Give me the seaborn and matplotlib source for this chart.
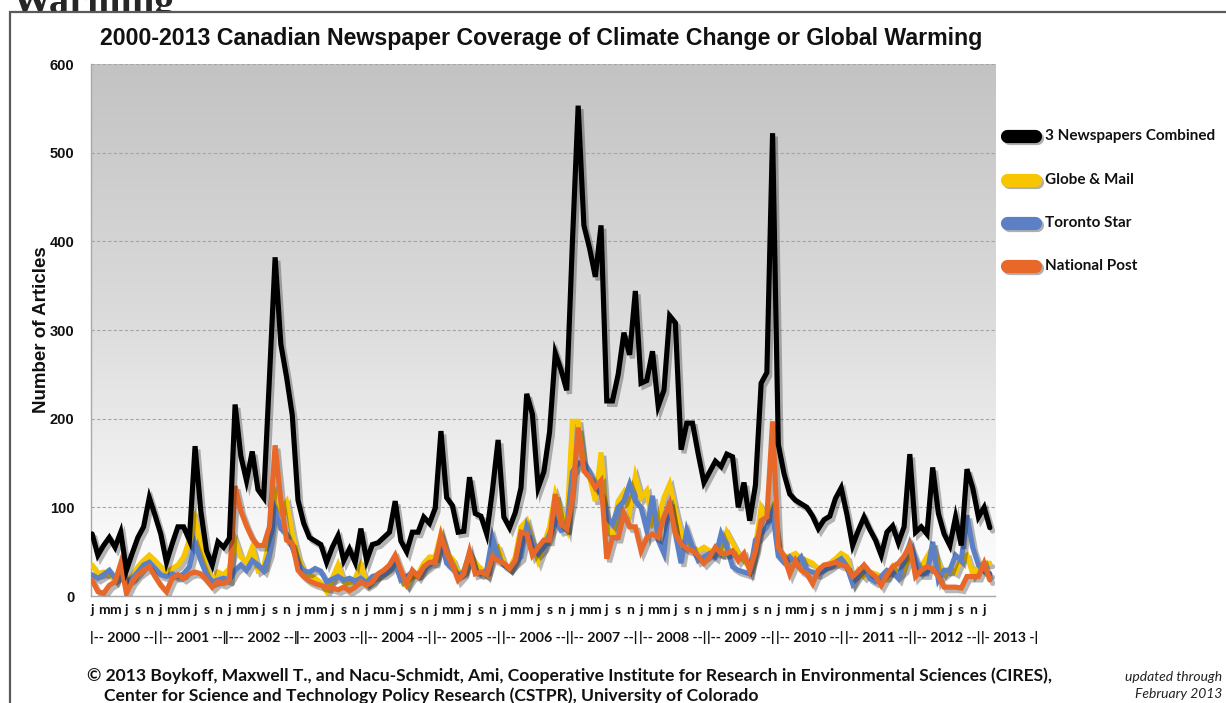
import numpy as np
import pandas as pd
import matplotlib
matplotlib.use("Agg")
import matplotlib.pyplot as plt
import seaborn as sns
from matplotlib import patheffects as pe
from matplotlib.lines import Line2D
from matplotlib.patches import Rectangle
from matplotlib.colors import LinearSegmentedColormap
from matplotlib.transforms import blended_transform_factory

# ---------------- data (monthly, Jan 2000 - Feb 2013) ----------------
combined = [70, 46, 57, 66, 55, 72, 29, 48, 66, 78, 111, 91,
            70, 38, 59, 78, 78, 63, 169, 96, 51, 35, 61, 55,
            65, 216, 158, 130, 163, 120, 111, 245, 382, 284, 247, 204,
            108, 82, 66, 62, 58, 38, 55, 68, 40, 53, 38, 76,
            40, 58, 60, 66, 72, 107, 62, 50, 72, 72, 89, 82,
            99, 186, 111, 102, 72, 73, 134, 93, 90, 70, 119, 176,
            89, 77, 94, 122, 228, 205, 122, 140, 185, 274, 255, 232,
            400, 553, 418, 392, 360, 418, 220, 220, 250, 297, 272, 344,
            240, 243, 276, 214, 232, 316, 308, 165, 195, 195, 160, 128,
            140, 152, 146, 160, 157, 100, 128, 85, 125, 240, 252, 522,
            171, 138, 115, 108, 104, 100, 90, 76, 86, 90, 110, 122,
            92, 57, 74, 89, 75, 63, 46, 72, 79, 60, 78, 160,
            72, 78, 70, 145, 93, 70, 57, 89, 57, 143, 122, 89,
            100, 77]
globe_mail = [35, 25, 27, 25, 18, 30, 18, 22, 33, 40, 46, 40,
              33, 27, 31, 35, 44, 63, 87, 55, 31, 18, 27, 24,
              31, 63, 44, 38, 55, 29, 33, 63, 115, 96, 106, 70,
              44, 29, 24, 20, 15, 5, 20, 35, 16, 14, 20, 35,
              14, 18, 24, 29, 33, 40, 18, 12, 22, 25, 37, 44,
              44, 70, 48, 42, 25, 29, 48, 37, 31, 24, 51, 55,
              37, 31, 44, 78, 85, 60, 40, 58, 78, 115, 96, 78,
              197, 197, 145, 134, 107, 162, 74, 70, 107, 117, 96, 135,
              111, 119, 81, 87, 111, 126, 96, 70, 63, 55, 51, 55,
              51, 50, 48, 72, 60, 48, 40, 33, 55, 100, 88, 100,
              50, 44, 45, 48, 42, 40, 37, 31, 34, 37, 42, 48,
              44, 16, 29, 22, 27, 25, 22, 22, 33, 24, 30, 48,
              31, 33, 44, 55, 37, 25, 31, 27, 42, 46, 25, 33,
              37, 37]
toronto_star = [24, 20, 24, 29, 20, 24, 16, 20, 27, 35, 38, 31,
                24, 22, 25, 22, 25, 33, 59, 40, 24, 16, 18, 20,
                18, 29, 35, 29, 40, 35, 29, 48, 96, 76, 70, 55,
                37, 28, 27, 31, 28, 16, 19, 22, 18, 20, 17, 20,
                15, 22, 24, 25, 30, 37, 18, 22, 27, 24, 30, 35,
                40, 63, 37, 31, 24, 27, 48, 29, 25, 29, 66, 44,
                35, 31, 38, 44, 78, 59, 48, 55, 70, 85, 74, 76,
                140, 150, 150, 140, 126, 115, 89, 81, 100, 107, 126, 107,
                100, 74, 113, 63, 48, 107, 70, 37, 74, 55, 40, 44,
                48, 44, 70, 55, 33, 29, 27, 25, 63, 70, 78, 95,
                45, 38, 44, 37, 44, 29, 27, 25, 29, 33, 38, 42,
                33, 14, 24, 31, 20, 16, 22, 29, 27, 20, 40, 59,
                42, 25, 25, 61, 18, 29, 29, 46, 40, 91, 55, 35,
                28, 25]
national_post = [18, 5, 3, 12, 16, 37, 3, 16, 24, 29, 33, 22,
                 12, 5, 20, 24, 20, 25, 27, 25, 18, 10, 16, 14,
                 18, 124, 96, 79, 65, 57, 57, 78, 170, 107, 63, 59,
                 29, 22, 17, 14, 12, 10, 9, 7, 10, 6, 10, 16,
                 12, 16, 25, 29, 35, 46, 29, 14, 29, 22, 33, 38,
                 38, 68, 48, 35, 18, 25, 50, 25, 27, 24, 44, 40,
                 37, 31, 40, 72, 70, 46, 55, 63, 63, 115, 81, 76,
                 110, 190, 141, 134, 122, 130, 42, 66, 66, 93, 78, 78,
                 51, 66, 70, 66, 89, 104, 70, 59, 53, 51, 45, 37,
                 44, 55, 48, 48, 51, 40, 48, 29, 51, 85, 89, 197,
                 55, 45, 25, 40, 29, 25, 14, 29, 35, 36, 38, 35,
                 33, 22, 28, 35, 27, 22, 12, 24, 33, 37, 45, 57,
                 22, 29, 33, 31, 22, 10, 10, 10, 9, 22, 22, 22,
                 37, 18]

month_letters = ["j", "", "m", "", "m", "", "j", "", "s", "", "n", ""]
year_labels = ["|-- 2000 --|", "|-- 2001 --|", "|--- 2002 --|", "|-- 2003 --|",
               "|-- 2004 --|", "|-- 2005 --|", "|-- 2006 --|", "|-- 2007 --|",
               "|-- 2008 --|", "|-- 2009 --|", "|-- 2010 --|", "|-- 2011 --|",
               "|-- 2012 --|", "|- 2013 -|"]
series_names = ["3 Newspapers Combined", "Globe & Mail", "Toronto Star", "National Post"]
series_colors = {"3 Newspapers Combined": "#000000", "Globe & Mail": "#F7C600",
                 "Toronto Star": "#5B80C6", "National Post": "#E8682A"}
y_ticks = [0, 100, 200, 300, 400, 500, 600]

n = len(combined)
months = np.arange(n)
df = pd.DataFrame({
    "month": np.tile(months, 4),
    "articles": np.concatenate([combined, globe_mail, toronto_star, national_post]),
    "series": np.repeat(series_names, n),
})

sns.set_theme(style="white")
plt.rcParams["font.family"] = ["Liberation Sans", "DejaVu Sans"]

W, H = 1226, 703
fig = plt.figure(figsize=(W / 100, H / 100), dpi=100)
fig.patch.set_facecolor("white")


def fx(px):
    return px / W


def fy(py):
    return 1 - py / H


CAL = ["Lato", "DejaVu Sans"]

# heading fragment above the framed chart
fig.text(fx(11), fy(13), "Warming", family=["Liberation Serif", "DejaVu Serif"],
         weight="bold", fontsize=29, va="baseline", ha="left", zorder=-3)
fig.add_artist(Rectangle((fx(10), -0.2), 1.5, fy(12) + 0.2, transform=fig.transFigure,
                         facecolor="white", edgecolor="#5a5a5a", lw=1.6, zorder=-2))

ax = fig.add_axes([fx(91), fy(596), fx(995) - fx(91), fy(64) - fy(596)])
ax.set_facecolor("white")

# gradient background
cmap = LinearSegmentedColormap.from_list(
    "bg", [(0.0, "#c3c3c3"), (0.45, "#dadada"), (0.85, "#f6f6f6"), (1.0, "#ffffff")])
ax.imshow(np.linspace(0, 1, 256).reshape(-1, 1), extent=[0, 1, 0, 1],
          transform=ax.transAxes, aspect="auto", cmap=cmap, zorder=-10,
          interpolation="bilinear")

shadow = [pe.SimpleLineShadow(offset=(2, -2.5), shadow_color="#000000", alpha=0.28),
          pe.Normal()]
order = ["Globe & Mail", "Toronto Star", "National Post", "3 Newspapers Combined"]
for z, name in enumerate(order):
    sns.lineplot(data=df[df["series"] == name], x="month", y="articles",
                 color=series_colors[name], lw=3.7, ax=ax, zorder=3 + z,
                 path_effects=shadow, legend=False, solid_joinstyle="miter")

ax.set_xlim(-0.2, n - 1 + 0.9)
ax.set_ylim(0, 600)
ax.set_xlabel("")
ax.set_ylabel("")
ax.set_axisbelow(True)
ax.yaxis.grid(True, linestyle=(0, (3, 2)), color="#a5a5a5", lw=0.8)
ax.xaxis.grid(False)
for s in ["top", "right"]:
    ax.spines[s].set_visible(False)
for s in ["left", "bottom"]:
    ax.spines[s].set_color("#a8a8a8")
    ax.spines[s].set_linewidth(1.0)

ax.set_yticks(y_ticks)
ax.set_yticklabels([str(v) for v in y_ticks], fontweight="bold", fontsize=10.5)
ax.tick_params(axis="y", length=5, width=0.8, color="#a8a8a8", pad=7, labelcolor="#111111")

ax.set_xticks(months)
ax.set_xticklabels([month_letters[i % 12] for i in months])
for lab in ax.get_xticklabels():
    lab.set_family(CAL)
    lab.set_fontweight("bold")
    lab.set_fontsize(10)
    lab.set_color("#111111")
ax.tick_params(axis="x", length=4, width=0.8, color="#a8a8a8", pad=2, direction="out")

# year row
trans = blended_transform_factory(ax.transData, fig.transFigure)
yr_texts = []
for k, lab in enumerate(year_labels):
    if k < len(year_labels) - 1:
        t = ax.text(12 * k + 5.5, fy(637), lab, transform=trans, ha="center", va="center",
                    family=CAL, weight="bold", fontsize=11, color="#111111", clip_on=False)
    else:
        t = ax.text(12 * k - 0.5, fy(637), lab, transform=trans, ha="left", va="center",
                    family=CAL, weight="bold", fontsize=11, color="#111111", clip_on=False)
    yr_texts.append(t)

# title / labels / footer
title = fig.text(fx(541), fy(38), "2000-2013 Canadian Newspaper Coverage of Climate Change or Global Warming",
                 ha="center", va="center", weight="bold", fontsize=14, color="#111111")
fig.text(fx(42), fy(330), "Number of Articles", rotation=90, ha="center", va="center",
         weight="bold", fontsize=13.5, color="#111111")
foot1 = fig.text(fx(87), fy(676),
                 "\u00a9 2013 Boykoff, Maxwell T., and Nacu-Schmidt, Ami, Cooperative Institute for Research in Environmental Sciences (CIRES),",
                 ha="left", va="center", family=CAL, weight="bold", fontsize=12, color="#111111")
foot2 = fig.text(fx(104), fy(696),
                 "Center for Science and Technology Policy Research (CSTPR), University of Colorado",
                 ha="left", va="center", family=CAL, weight="bold", fontsize=12, color="#111111")
fig.text(fx(1222), fy(677), "updated through", ha="right", va="center", family=CAL,
         style="italic", fontsize=10, color="#222222")
fig.text(fx(1222), fy(694), "February 2013", ha="right", va="center", family=CAL,
         style="italic", fontsize=10, color="#222222")

# legend (manual swatches)
leg_y = [136, 180, 223, 266]
for name, yy in zip(series_names, leg_y):
    fig.add_artist(Line2D([fx(1007), fx(1035)], [fy(yy), fy(yy)], transform=fig.transFigure,
                          color=series_colors[name], lw=9.5, solid_capstyle="round",
                          path_effects=[pe.SimpleLineShadow(offset=(1.2, -1.5), alpha=0.35), pe.Normal()]))
    fig.text(fx(1045), fy(yy), name, ha="left", va="center", family=CAL, weight="bold",
             fontsize=11, color="#111111")

# fit text widths
fig.canvas.draw()
r = fig.canvas.get_renderer()


def fit(t, width_px):
    bb = t.get_window_extent(renderer=r)
    t.set_fontsize(t.get_fontsize() * width_px / bb.width)


fit(title, 888)
fit(foot1, 955)
foot2.set_fontsize(foot1.get_fontsize())
bb0 = yr_texts[0].get_window_extent(renderer=r)
seg = ax.transData.transform((11.5, 0))[0] - ax.transData.transform((-0.5, 0))[0]
fs = yr_texts[0].get_fontsize() * seg / bb0.width
for t in yr_texts:
    t.set_fontsize(fs)

fig.savefig("out.png", dpi=100, facecolor="white")
